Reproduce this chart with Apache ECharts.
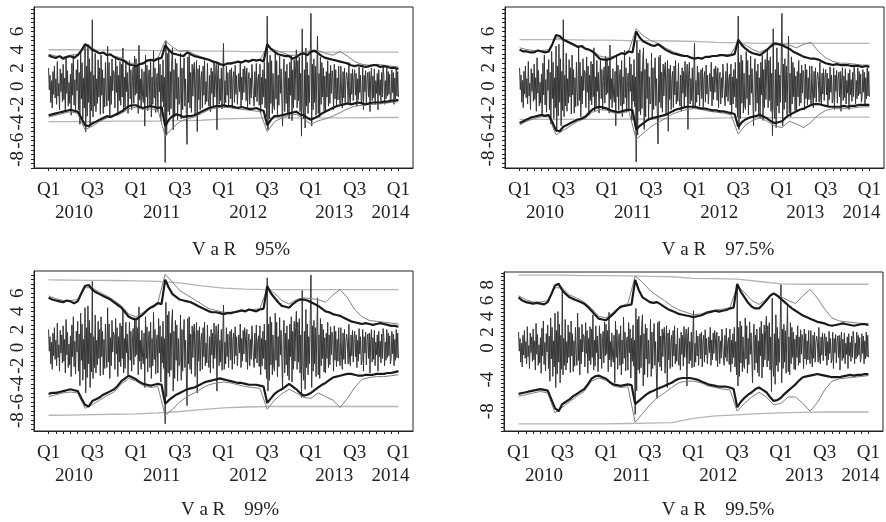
<!DOCTYPE html>
<html>
<head>
<meta charset="utf-8">
<script src="https://cdn.jsdelivr.net/npm/echarts@6/dist/echarts.min.js"></script>
<style>
  html, body { margin: 0; padding: 0; background: #fff; }
  #chart { width: 886px; height: 522px; }
</style>
</head>
<body>
<div id="chart"></div>
<script>
// daily returns (%), 10 readings per month, Jan 2010 .. Jan 2014
const returns = [
  2.0, -0.4, 1.2, -1.8, 0.6, -2.4, 1.6, -0.9, 2.2, -1.3,
  0.8, -2.0, 2.7, -1.1, 0.3, -2.6, 1.9, -0.6, 1.4, -1.7,
  2.4, -1.5, 0.9, -2.8, 3.1, -0.8, 1.7, -2.2, 0.4, -1.9,
  1.3, -3.2, 2.5, -1.0, 3.4, -2.1, 0.7, -2.9, 1.8, -0.5,
  2.9, -2.6, 1.5, -4.2, 3.8, -1.4, 2.6, -3.6, 0.9, -2.4,
  4.4, -5.0, 2.2, -3.3, 4.6, -1.8, 3.0, -4.4, 1.6, -2.7,
  7.3, -3.4, 1.2, -2.2, 3.6, -2.8, 0.8, -1.9, 2.9, -1.2,
  2.0, -3.1, 3.4, -1.0, 1.8, -3.0, 0.9, -2.3, 2.6, -0.7,
  -2.2, 4.4, -1.6, 2.6, -3.4, 1.1, -2.0, 3.0, -0.5, 1.7,
  1.4, -2.4, 3.2, -0.7, 2.2, -3.2, 1.2, -1.6, 2.7, -2.1,
  2.4, -1.2, 4.2, -2.8, 1.0, -2.3, 2.8, -0.6, 1.5, -3.0,
  -3.2, 2.8, -1.4, 1.8, -2.6, 0.6, 2.1, -1.9, 3.3, -1.0,
  3.0, -0.8, 2.2, -3.0, 4.5, -1.5, 0.8, -2.4, 1.9, -1.1,
  -1.8, 1.6, -4.4, 3.4, -1.2, 2.3, -2.7, 0.9, 1.8, -2.2,
  2.8, -3.4, 1.0, -2.0, 3.9, -1.3, 2.0, -2.9, 0.6, 1.4,
  -2.8, 3.2, -0.6, 2.4, -3.8, 1.2, -1.7, 2.9, -2.3, 1.0,
  -8.4, 5.0, -5.4, 3.6, -2.8, 4.0, -3.2, 1.6, -2.5, 2.8,
  4.2, -4.8, 1.8, -3.4, 3.0, -1.4, 2.5, -3.7, 1.0, -2.0,
  -1.6, 3.6, -3.6, 2.0, -2.6, 1.3, 3.1, -2.2, 0.8, -3.0,
  -6.4, 3.2, -1.8, 3.4, -2.4, 1.5, -2.9, 2.4, -1.1, 1.9,
  2.6, -3.2, 0.8, 2.8, -5.0, 1.9, -1.5, 2.3, -2.6, 0.7,
  1.6, -2.4, 2.2, -1.0, 2.8, -2.0, 0.5, -1.7, 2.5, -1.3,
  -2.2, 1.2, -2.8, 2.0, -0.8, 1.6, -2.3, 2.7, -1.2, 0.9,
  2.4, -4.8, 1.4, 2.6, -2.0, 0.8, -1.6, 2.0, -2.5, 1.1,
  4.7, -2.4, 0.6, -1.8, 2.2, -1.0, 1.5, -2.2, 0.7, 1.8,
  -1.4, 2.0, -2.4, 0.8, 1.6, -1.8, 2.3, -0.9, 1.2, -2.0,
  -2.0, 1.4, -0.6, 2.6, -2.2, 1.0, -1.5, 1.9, -0.7, 2.2,
  1.2, -1.6, 2.0, -2.4, 0.7, 1.5, -2.0, 0.9, -1.3, 2.4,
  2.2, -1.0, -2.2, 1.6, -1.2, 2.5, -1.7, 0.6, 1.3, -2.1,
  2.4, -3.0, 1.0, -2.0, 1.8, -1.2, 2.6, -2.4, 0.8, -3.4,
  7.7, -4.8, 2.6, -3.6, 3.4, -1.9, 2.8, -3.0, 1.4, -2.2,
  -2.6, 3.8, -1.4, 2.8, -3.2, 1.2, -2.1, 3.3, -0.8, 1.9,
  2.0, -4.4, 1.2, 3.0, -2.8, 1.6, -1.9, 2.4, -3.1, 0.9,
  -3.6, 2.6, -1.0, 3.4, -3.8, 1.8, -2.4, 2.9, -1.5, 2.2,
  4.0, -2.4, 2.8, -1.6, 3.2, -2.8, 1.4, -5.5, 6.3, -2.2,
  -3.6, 1.8, -4.6, 4.2, -2.2, 2.6, -3.0, 1.2, -1.8, 3.1,
  8.0, -4.4, 2.4, -2.6, 3.0, -1.8, 2.2, -3.2, 1.6, 5.5,
  -3.0, 1.4, -3.4, 3.2, -2.0, 2.6, -1.2, 2.0, -2.7, 1.1,
  -2.8, 1.6, -1.2, 2.8, -2.2, 1.4, -1.9, 2.3, -0.8, 1.7,
  1.0, -2.6, 2.4, -1.4, 1.8, -2.1, 0.9, -1.5, 2.2, -1.0,
  -2.0, 2.2, -0.8, -2.4, 1.6, -1.3, 2.0, -1.8, 0.7, 1.5,
  0.6, -1.8, 2.6, -1.2, -2.0, 1.4, -0.9, 1.9, -1.6, 1.0,
  1.8, -1.0, 1.4, -2.2, 0.8, -1.5, 2.1, -0.7, 1.2, -1.9,
  -1.4, 2.0, -2.6, 1.2, -0.6, 1.7, -1.9, 0.8, 1.5, -1.2,
  1.6, -2.8, 0.9, 2.0, -1.6, 1.1, -1.3, 1.9, -2.0, 0.6,
  -0.8, 1.4, -2.6, 1.8, -1.0, 0.7, -1.7, 1.5, -1.2, 2.1,
  1.2, -2.0, 0.6, -1.4, 2.0, -1.1, 1.6, -0.9, 1.3, -1.8,
  -1.2, 1.8, -0.7, 1.5, -2.0, 0.9, -1.4, 2.0, -1.1, 1.6,
  -1.2
];

// main VaR forecasts, two readings per month
const var95Up = [3.4, 3.2, 3.1, 3.3, 3.0, 3.2, 3.3, 3.1, 3.4, 3.9, 4.6, 4.4, 4.0, 3.8, 3.6, 3.7, 3.4, 3.5, 3.2, 3.0, 2.9, 2.7, 2.4, 2.3, 2.2, 2.4, 2.5, 2.8, 2.9, 2.8, 3.0, 3.1, 4.5, 4.0, 3.6, 3.5, 3.4, 3.3, 3.7, 3.5, 3.3, 3.2, 3.1, 3.0, 2.9, 2.7, 2.6, 2.4, 2.3, 2.5, 2.5, 2.6, 2.7, 2.6, 2.8, 2.7, 2.9, 2.8, 2.9, 2.7, 4.6, 4.1, 3.8, 3.5, 3.4, 3.3, 3.3, 3.0, 3.2, 3.5, 3.6, 3.4, 3.8, 3.9, 3.6, 3.3, 3.1, 3.0, 2.9, 2.8, 2.7, 2.6, 2.5, 2.3, 2.2, 2.3, 2.2, 2.1, 2.2, 2.3, 2.3, 2.1, 2.2, 2.1, 2.0, 2.0, 1.9];
const var95Lo = [-3.2, -3.1, -3.0, -2.9, -2.8, -2.7, -2.6, -2.7, -2.8, -3.5, -4.3, -4.4, -4.1, -3.9, -3.7, -3.5, -3.3, -3.4, -3.2, -3.0, -2.8, -2.5, -2.2, -2.1, -2.1, -2.3, -2.4, -2.3, -2.2, -2.3, -2.4, -2.3, -4.4, -3.7, -3.3, -3.1, -3.2, -3.4, -3.3, -3.3, -3.2, -3.0, -2.8, -2.6, -2.4, -2.3, -2.2, -2.2, -2.1, -2.2, -2.2, -2.3, -2.4, -2.3, -2.4, -2.5, -2.5, -2.4, -2.6, -2.7, -4.3, -3.7, -3.3, -3.3, -3.2, -3.1, -3.0, -2.9, -2.8, -3.1, -3.2, -3.5, -3.7, -3.5, -3.3, -3.0, -2.8, -2.6, -2.4, -2.2, -2.1, -2.0, -1.9, -2.0, -1.9, -1.8, -1.9, -2.0, -1.9, -1.8, -1.8, -1.8, -1.7, -1.7, -1.6, -1.6, -1.5];
const var975Up = [4.0, 3.8, 3.8, 3.7, 3.7, 3.9, 3.8, 3.7, 3.8, 4.6, 5.6, 5.5, 5.1, 4.9, 4.7, 4.5, 4.3, 4.4, 4.1, 4.0, 3.8, 3.4, 3.0, 2.9, 2.9, 3.0, 3.2, 3.4, 3.6, 3.5, 3.8, 3.7, 6.0, 5.3, 4.9, 4.7, 4.5, 4.4, 4.6, 4.3, 4.0, 3.8, 3.6, 3.5, 3.4, 3.3, 3.3, 3.1, 3.0, 3.1, 3.0, 3.2, 3.2, 3.3, 3.3, 3.4, 3.4, 3.3, 3.4, 3.5, 5.1, 4.5, 4.1, 3.8, 3.6, 3.5, 3.4, 3.7, 4.0, 4.4, 4.7, 4.6, 4.5, 4.3, 4.1, 3.8, 3.6, 3.4, 3.2, 3.1, 3.0, 3.0, 2.9, 2.7, 2.5, 2.4, 2.3, 2.4, 2.3, 2.3, 2.3, 2.2, 2.2, 2.2, 2.1, 2.2, 2.1];
const var975Lo = [-4.1, -3.9, -3.7, -3.5, -3.4, -3.3, -3.2, -3.3, -3.2, -4.0, -4.9, -5.0, -4.5, -4.3, -4.1, -3.9, -3.7, -3.6, -3.4, -3.0, -2.6, -2.4, -2.3, -2.4, -2.5, -2.7, -2.8, -2.9, -2.8, -2.7, -2.6, -2.7, -4.8, -4.4, -4.1, -3.8, -3.6, -3.5, -3.4, -3.3, -3.2, -3.0, -2.8, -2.6, -2.5, -2.4, -2.3, -2.3, -2.3, -2.4, -2.5, -2.5, -2.6, -2.7, -2.7, -2.8, -2.8, -2.9, -3.0, -3.1, -4.5, -4.0, -3.7, -3.5, -3.4, -3.3, -3.2, -3.4, -3.6, -3.9, -4.1, -4.0, -3.9, -3.5, -3.2, -3.0, -2.8, -2.6, -2.5, -2.3, -2.1, -2.0, -2.0, -2.1, -2.2, -2.3, -2.3, -2.3, -2.3, -2.2, -2.3, -2.2, -2.2, -2.1, -2.1, -2.1, -2.1];
const var99Up = [5.5, 5.3, 5.2, 5.1, 5.0, 5.2, 5.1, 4.9, 5.1, 6.0, 6.8, 6.9, 6.4, 6.1, 5.9, 5.7, 5.5, 5.3, 5.0, 4.7, 4.4, 3.9, 3.4, 3.2, 3.1, 3.4, 3.7, 4.1, 4.4, 4.6, 4.9, 4.8, 7.5, 6.6, 5.9, 5.6, 5.3, 5.2, 5.1, 5.0, 4.8, 4.6, 4.4, 4.2, 4.0, 3.9, 3.9, 3.8, 3.7, 3.8, 3.8, 3.9, 4.0, 4.1, 4.0, 4.2, 4.1, 4.0, 4.2, 4.3, 6.8, 6.0, 5.5, 5.0, 4.6, 4.5, 4.4, 4.8, 5.1, 5.3, 5.3, 5.2, 5.0, 4.8, 4.6, 4.3, 4.0, 3.9, 3.7, 3.6, 3.5, 3.3, 3.1, 2.9, 2.8, 2.7, 2.6, 2.7, 2.6, 2.5, 2.6, 2.7, 2.6, 2.5, 2.4, 2.4, 2.3];
const var99Lo = [-5.1, -5.0, -5.0, -4.9, -4.8, -4.7, -4.6, -4.7, -4.8, -5.6, -6.3, -6.5, -5.9, -5.7, -5.5, -5.2, -5.0, -4.8, -4.6, -4.2, -3.7, -3.4, -3.1, -3.3, -3.5, -3.8, -4.0, -4.1, -4.2, -4.1, -4.0, -4.1, -6.2, -5.8, -5.5, -5.2, -5.0, -4.8, -4.6, -4.5, -4.4, -4.2, -4.0, -3.8, -3.7, -3.6, -3.5, -3.4, -3.5, -3.6, -3.7, -3.8, -3.9, -3.9, -4.0, -4.1, -4.1, -4.1, -4.2, -4.3, -6.1, -5.6, -5.1, -4.8, -4.6, -4.3, -4.0, -4.3, -4.6, -5.0, -5.3, -5.2, -5.0, -4.7, -4.4, -4.1, -3.9, -3.6, -3.3, -3.2, -3.1, -3.0, -2.9, -2.9, -3.0, -3.1, -3.1, -3.0, -3.0, -3.0, -2.9, -2.9, -2.9, -2.8, -2.8, -2.7, -2.6];
const var995Up = [6.4, 6.0, 5.8, 5.7, 5.6, 5.7, 5.6, 5.5, 5.8, 6.8, 7.9, 8.1, 7.3, 6.8, 6.4, 6.2, 6.0, 5.8, 5.6, 5.2, 4.7, 4.2, 3.7, 3.6, 3.5, 3.9, 4.3, 4.8, 5.2, 5.3, 5.4, 5.5, 8.6, 7.3, 6.4, 6.1, 5.8, 5.7, 5.8, 5.5, 5.2, 4.9, 4.7, 4.5, 4.3, 4.2, 4.1, 4.0, 3.9, 4.0, 4.1, 4.3, 4.5, 4.6, 4.7, 4.6, 4.7, 4.8, 5.0, 5.1, 8.1, 7.1, 6.4, 5.7, 5.2, 5.0, 5.0, 5.5, 6.0, 6.6, 6.9, 6.6, 6.2, 5.8, 5.4, 5.0, 4.7, 4.4, 4.1, 3.9, 3.7, 3.5, 3.3, 3.2, 3.1, 2.9, 2.8, 2.9, 3.0, 3.1, 3.0, 2.9, 2.8, 2.9, 3.0, 3.0, 2.9];
const var995Lo = [-5.8, -5.7, -5.6, -5.5, -5.4, -5.3, -5.2, -5.3, -5.4, -6.5, -7.6, -8.0, -7.1, -6.8, -6.5, -6.1, -5.8, -5.5, -5.2, -4.6, -3.9, -3.6, -3.5, -3.7, -3.9, -4.3, -4.6, -4.7, -4.8, -4.7, -4.6, -4.7, -7.1, -6.7, -6.3, -5.9, -5.6, -5.4, -5.2, -5.0, -4.8, -4.6, -4.4, -4.1, -3.9, -3.8, -3.8, -3.8, -3.9, -4.0, -4.2, -4.4, -4.6, -4.7, -4.8, -4.9, -4.9, -4.9, -5.0, -5.2, -7.5, -6.8, -6.3, -5.9, -5.6, -5.2, -5.0, -5.3, -5.6, -6.2, -6.7, -6.6, -6.3, -5.8, -5.4, -5.0, -4.6, -4.1, -3.7, -3.6, -3.5, -3.4, -3.3, -3.4, -3.5, -3.6, -3.7, -3.7, -3.7, -3.6, -3.5, -3.4, -3.5, -3.4, -3.4, -3.3, -3.3];

// second model's VaR, one reading per month
const var95UpAlt = [3.5, 3.3, 3.2, 3.4, 3.5, 4.4, 4.2, 3.7, 3.5, 3.3, 3.1, 2.6, 2.4, 2.6, 2.8, 3.1, 5.0, 4.3, 3.8, 3.9, 3.5, 3.2, 2.9, 2.7, 2.4, 2.4, 2.6, 2.7, 2.8, 2.9, 4.3, 4.0, 3.7, 3.4, 3.4, 3.7, 3.9, 3.9, 3.6, 3.4, 3.8, 3.3, 2.7, 2.4, 2.3, 2.4, 2.3, 2.2, 2.1];
const var95LoAlt = [-3.4, -3.2, -3.0, -2.8, -3.0, -4.8, -4.4, -3.9, -3.5, -3.3, -3.0, -2.5, -2.3, -2.6, -2.5, -2.6, -5.5, -4.6, -3.9, -3.6, -3.4, -3.0, -2.6, -2.4, -2.3, -2.4, -2.5, -2.6, -2.7, -2.8, -5.0, -3.9, -3.5, -3.2, -3.1, -3.6, -4.2, -3.8, -3.6, -3.3, -2.9, -2.5, -2.2, -2.1, -2.0, -2.0, -1.9, -1.8, -1.7];
const var975UpAlt = [4.2, 4.0, 3.9, 3.9, 4.0, 5.3, 5.2, 4.8, 4.4, 4.2, 3.9, 3.3, 3.1, 3.3, 3.6, 3.9, 6.3, 5.5, 5.0, 4.7, 4.2, 3.8, 3.5, 3.3, 3.1, 3.1, 3.2, 3.3, 3.4, 3.5, 4.9, 4.5, 4.0, 3.7, 4.1, 4.5, 4.6, 4.5, 4.2, 4.6, 4.8, 3.8, 3.1, 2.7, 2.5, 2.5, 2.4, 2.3, 2.3];
const var975LoAlt = [-4.3, -3.9, -3.6, -3.4, -3.4, -5.4, -4.9, -4.4, -3.9, -3.6, -2.9, -2.6, -2.7, -3.0, -3.0, -2.8, -5.9, -5.2, -4.5, -4.0, -3.6, -3.1, -2.8, -2.6, -2.5, -2.6, -2.8, -2.9, -3.0, -3.2, -5.3, -4.3, -3.8, -3.5, -3.9, -4.4, -4.6, -3.9, -4.2, -4.6, -4.0, -3.2, -2.7, -2.5, -2.5, -2.5, -2.4, -2.3, -2.3];
const var99UpAlt = [5.7, 5.4, 5.2, 5.2, 5.3, 6.6, 6.6, 6.1, 5.7, 5.2, 4.6, 3.7, 3.4, 3.9, 4.5, 5.0, 8.1, 7.2, 6.3, 5.8, 5.3, 4.8, 4.3, 4.1, 3.9, 3.9, 4.0, 4.1, 4.2, 4.3, 6.5, 6.0, 5.2, 4.8, 5.3, 5.5, 5.4, 5.3, 5.0, 5.8, 6.4, 5.5, 4.2, 3.4, 3.0, 2.9, 2.8, 2.7, 2.6];
const var99LoAlt = [-5.4, -5.2, -5.0, -4.9, -5.0, -6.7, -6.3, -5.8, -5.3, -4.9, -4.0, -3.4, -3.7, -4.2, -4.4, -4.3, -7.5, -6.8, -6.0, -5.4, -5.0, -4.5, -4.1, -3.9, -3.8, -3.9, -4.1, -4.3, -4.4, -4.5, -6.8, -5.8, -5.1, -4.6, -5.0, -5.5, -5.6, -5.0, -5.4, -5.8, -6.6, -5.6, -4.4, -3.5, -3.3, -3.2, -3.2, -3.1, -3.0];
const var995UpAlt = [6.6, 6.1, 5.8, 5.8, 6.0, 7.6, 7.6, 6.7, 6.3, 5.8, 5.0, 4.0, 3.8, 4.5, 5.3, 5.6, 9.1, 8.3, 7.3, 6.6, 6.0, 5.3, 4.8, 4.5, 4.2, 4.3, 4.6, 4.8, 4.9, 5.1, 7.8, 7.0, 6.0, 5.5, 6.2, 6.8, 6.5, 6.0, 5.6, 6.6, 7.4, 6.3, 4.9, 3.8, 3.4, 3.3, 3.2, 3.1, 3.1];
const var995LoAlt = [-6.1, -5.9, -5.7, -5.5, -5.7, -8.2, -7.5, -6.8, -6.1, -5.5, -4.2, -3.8, -4.1, -4.8, -5.0, -4.9, -9.4, -8.3, -7.2, -6.3, -5.7, -5.0, -4.4, -4.2, -4.2, -4.4, -4.8, -5.0, -5.2, -5.3, -8.0, -7.0, -6.2, -5.6, -6.2, -7.2, -7.0, -6.2, -6.2, -7.0, -8.0, -6.9, -5.3, -4.2, -3.9, -3.8, -3.7, -3.6, -3.5];

// historical-simulation VaR, one reading per quarter
const hs95Up = [4.0, 4.0, 3.95, 3.95, 3.95, 3.9, 3.9, 3.85, 3.85, 3.8, 3.8, 3.8, 3.75, 3.75, 3.75, 3.75, 3.75];
const hs95Lo = [-3.9, -3.9, -3.9, -3.85, -3.85, -3.85, -3.8, -3.75, -3.6, -3.55, -3.5, -3.5, -3.5, -3.5, -3.5, -3.45, -3.45];
const hs975Up = [5.1, 5.1, 5.1, 5.05, 5.05, 5.0, 5.0, 4.95, 4.9, 4.8, 4.75, 4.7, 4.7, 4.7, 4.7, 4.7, 4.7];
const hs975Lo = [-3.7, -3.7, -3.7, -3.7, -3.7, -3.65, -3.65, -3.6, -3.6, -3.55, -3.5, -3.5, -3.5, -3.5, -3.45, -3.45, -3.45];
const hs99Up = [7.46, 7.45, 7.42, 7.4, 7.35, 7.3, 7.15, 6.8, 6.55, 6.45, 6.4, 6.4, 6.4, 6.4, 6.4, 6.4, 6.4];
const hs99Lo = [-7.46, -7.45, -7.4, -7.35, -7.3, -7.2, -7.05, -6.85, -6.65, -6.55, -6.5, -6.5, -6.5, -6.5, -6.5, -6.5, -6.5];
const hs995Up = [9.2, 9.2, 9.2, 9.15, 9.15, 9.1, 9.05, 9.0, 8.8, 8.75, 8.7, 8.4, 8.1, 8.05, 8.05, 8.05, 8.05];
const hs995Lo = [-9.6, -9.6, -9.6, -9.6, -9.6, -9.55, -9.5, -9.45, -8.9, -8.6, -8.45, -8.3, -8.2, -8.15, -8.1, -8.1, -8.1];

// axis labels
const quarterLabels = ['Q1', 'Q3', 'Q1', 'Q3', 'Q1', 'Q3', 'Q1', 'Q3', 'Q1'];
const yearLabels = ['2010', '2011', '2012', '2013', '2014'];
const titles = ['V a R    95%', 'V a R    97.5%', 'V a R    99%', 'V a R    99.5%'];

const FONT = 'Liberation Serif';
const yearPos = [3.5, 15.5, 27.4, 39.2, 46.9];

function pairs(arr, step) {
    return arr.map((v, i) => [i * step, v]);
}

function range(a, b, s) {
    let out = [];
    for (let v = a; v <= b + 1e-9; v += s) out.push(Math.round(v * 100) / 100);
    return out;
}

let panels = [
    { up: var95Up, upAlt: var95UpAlt, lo: var95Lo, loAlt: var95LoAlt, hsUp: hs95Up, hsLo: hs95Lo,
      min: -9.0, max: 8.7, labels: [-8, -6, -4, -2, 0, 2, 4, 6],
      grid: { left: 34, top: 7, width: 379, height: 161 }, title: [236, 236] },
    { up: var975Up, upAlt: var975UpAlt, lo: var975Lo, loAlt: var975LoAlt, hsUp: hs975Up, hsLo: hs975Lo,
      min: -9.05, max: 8.7, labels: [-8, -6, -4, -2, 0, 2, 4, 6],
      grid: { left: 505, top: 7, width: 379, height: 161 }, title: [713, 236] },
    { up: var99Up, upAlt: var99UpAlt, lo: var99Lo, loAlt: var99LoAlt, hsUp: hs99Up, hsLo: hs99Lo,
      min: -9.2, max: 8.45, labels: [-8, -6, -4, -2, 0, 2, 4, 6],
      grid: { left: 34, top: 271, width: 379, height: 160 }, title: [225, 496] },
    { up: var995Up, upAlt: var995UpAlt, lo: var995Lo, loAlt: var995LoAlt, hsUp: hs995Up, hsLo: hs995Lo,
      min: -10.5, max: 9.6, labels: [-8, -4, 0, 2, 4, 6, 8],
      grid: { left: 504, top: 272, width: 379, height: 159 }, title: [713, 496] }
];

let grid = [], xAxis = [], yAxis = [], series = [], title = [];
let labelStyle = { fontFamily: FONT, fontSize: 19, color: '#222' };

panels.forEach((p, i) => {
    grid.push(Object.assign({ show: true, borderColor: '#222', borderWidth: 1 }, p.grid));

    // quarter axis
    xAxis.push({
        type: 'value', gridIndex: i, min: -2, max: 50,
        splitLine: { show: false },
        axisLine: { show: true, onZero: false, lineStyle: { color: '#222', width: 1 } },
        axisTick: { show: true, length: 3, customValues: range(0, 48, 1), lineStyle: { color: '#222' } },
        axisLabel: Object.assign({
            margin: 13,
            customValues: range(0, 48, 6),
            formatter: v => quarterLabels[Math.round(v / 6)]
        }, labelStyle)
    });
    // year axis
    xAxis.push({
        type: 'value', gridIndex: i, min: -2, max: 50, position: 'bottom', offset: 0,
        splitLine: { show: false },
        axisLine: { show: false },
        axisTick: { show: false },
        axisLabel: Object.assign({
            margin: 36,
            customValues: yearPos,
            formatter: v => yearLabels[yearPos.indexOf(v)]
        }, labelStyle)
    });

    yAxis.push({
        type: 'value', gridIndex: i, min: p.min, max: p.max,
        splitLine: { show: false },
        axisLine: { show: true, onZero: false, lineStyle: { color: '#222', width: 1 } },
        axisTick: { show: true, length: 3, customValues: range(Math.ceil(p.min * 2) / 2, Math.floor(p.max * 2) / 2, 0.5), lineStyle: { color: '#222' } },
        axisLabel: Object.assign({
            margin: 6, rotate: 90, align: 'center', verticalAlign: 'bottom',
            customValues: p.labels,
            formatter: v => String(v)
        }, labelStyle)
    });

    title.push({
        text: titles[i], left: p.title[0], top: p.title[1], textAlign: 'center',
        textStyle: { fontFamily: FONT, fontSize: 19, fontWeight: 'normal', color: '#222' }
    });

    let base = { type: 'line', xAxisIndex: i * 2, yAxisIndex: i, showSymbol: false, symbol: 'none', animation: false, silent: true };
    series.push(Object.assign({}, base, { data: pairs(p.hsUp, 3), lineStyle: { color: '#b5b5b5', width: 1.3 } }));
    series.push(Object.assign({}, base, { data: pairs(p.hsLo, 3), lineStyle: { color: '#b5b5b5', width: 1.3 } }));
    series.push(Object.assign({}, base, { data: pairs(returns, 0.1), lineStyle: { color: '#353535', width: 1 } }));
    series.push(Object.assign({}, base, { data: pairs(p.upAlt, 1), lineStyle: { color: '#808080', width: 1 } }));
    series.push(Object.assign({}, base, { data: pairs(p.loAlt, 1), lineStyle: { color: '#808080', width: 1 } }));
    series.push(Object.assign({}, base, { data: pairs(p.up, 0.5), lineStyle: { color: '#1a1a1a', width: 2.2 } }));
    series.push(Object.assign({}, base, { data: pairs(p.lo, 0.5), lineStyle: { color: '#1a1a1a', width: 2.2 } }));
});

let chart = echarts.init(document.getElementById('chart'));
chart.setOption({
    animation: false,
    backgroundColor: '#fff',
    title: title,
    grid: grid,
    xAxis: xAxis,
    yAxis: yAxis,
    series: series
});
</script>
</body>
</html>
